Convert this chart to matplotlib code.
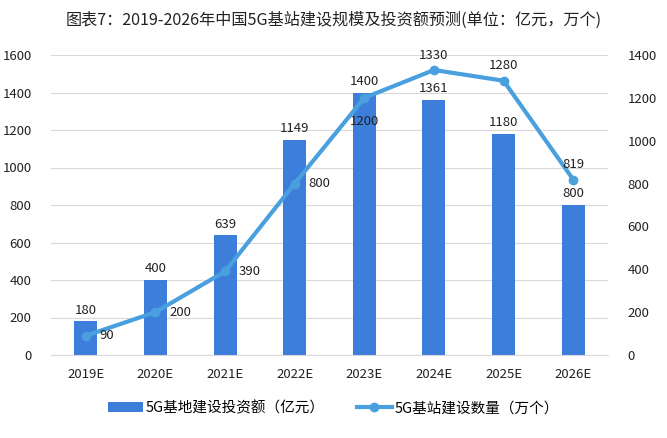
import matplotlib
matplotlib.use("Agg")
import matplotlib.pyplot as plt
import numpy as np

plt.rcParams['font.family'] = ['Noto Sans CJK SC', 'DejaVu Sans']

categories = ["2019E", "2020E", "2021E", "2022E", "2023E", "2024E", "2025E", "2026E"]
investment = [180, 400, 639, 1149, 1400, 1361, 1180, 800]
stations = [90, 200, 390, 800, 1200, 1330, 1280, 819]
title = "图表7：2019-2026年中国5G基站建设规模及投资额预测(单位：亿元，万个)"
bar_label = "5G基地建设投资额（亿元）"
line_label = "5G基站建设数量（万个）"

bar_color = "#3C7EDA"
line_color = "#4AA0DE"

fig = plt.figure(figsize=(6.67, 4.38), dpi=100)
ax = fig.add_axes([51/667, 83/438, 557/667, 300/438])
ax2 = ax.twinx()

x = np.arange(len(categories))
bars = ax.bar(x, investment, width=0.33, color=bar_color, zorder=2, label=bar_label)
ax.set_ylim(0, 1600)
ax.set_yticks(range(0, 1601, 200))
ax.set_xlim(-0.5, len(categories) - 0.5)
ax.set_xticks(x)
ax.set_xticklabels(categories)
ax.grid(axis='y', color='#D9D9D9', linewidth=0.8, zorder=0)
ax.set_axisbelow(True)
for s in ['top', 'right', 'left']:
    ax.spines[s].set_visible(False)
ax.spines['bottom'].set_color('#D9D9D9')
ax.tick_params(axis='both', length=0, labelsize=9.5, colors='#222222')
ax.tick_params(axis='x', pad=9)
ax.tick_params(axis='y', pad=14)

for xi, v in zip(x, investment):
    ax.text(xi, v + 25, str(v), ha='center', va='bottom', fontsize=9.5, color='#222222', zorder=5)

ax2.plot(x, stations, color=line_color, linewidth=3, marker='o', markersize=6, zorder=3, label=line_label)
ax2.set_ylim(0, 1400)
ax2.set_yticks(range(0, 1401, 200))
for s in ['top', 'right', 'left', 'bottom']:
    ax2.spines[s].set_visible(False)
ax2.tick_params(axis='y', length=0, labelsize=9.5, colors='#222222', pad=14)

for i, (xi, v) in enumerate(zip(x, stations)):
    if i <= 3:
        ax2.annotate(str(v), (xi, v), xytext=(10, 0), textcoords='offset points',
                     ha='left', va='center', fontsize=9.5, color='#222222')
    elif i == 4:
        ax2.annotate(str(v), (xi, v), xytext=(0, -12), textcoords='offset points',
                     ha='center', va='top', fontsize=9.5, color='#222222')
    else:
        ax2.annotate(str(v), (xi, v), xytext=(0, 6), textcoords='offset points',
                     ha='center', va='bottom', fontsize=9.5, color='#222222')

fig.text(0.5, 1 - 20/438, title, ha='center', va='center', fontsize=11.6, color='#222222')

h1, l1 = ax.get_legend_handles_labels()
h2, l2 = ax2.get_legend_handles_labels()
fig.legend(h1 + h2, l1 + l2, loc='center', bbox_to_anchor=(0.5, 1 - 408/438), ncol=2,
           frameon=False, fontsize=10.5, handlelength=2.4, columnspacing=2.2, handletextpad=0.2)

fig.savefig("out.png", dpi=100, facecolor='white')
